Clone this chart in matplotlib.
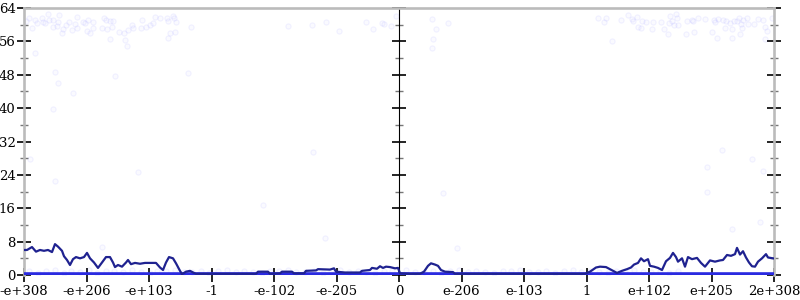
import matplotlib
matplotlib.use("Agg")
import matplotlib.pyplot as plt
from matplotlib.ticker import MultipleLocator, NullFormatter

# x is a position index over the ordered doubles (0 .. 750), 0.0 sits at 375
tick_pos = [0, 62.5, 125, 187.5, 250, 312.5, 375, 437.5, 500, 562.5, 625, 687.5, 750]
tick_labels = ["-e+308", "-e+206", "-e+103", "-1", "-e-102", "-e-205", "0",
               "e-206", "e-103", "1", "e+102", "e+205", "2e+308"]

# running average of error bits
avg_x = [0, 3, 8, 12, 16, 20, 24, 28, 31, 34, 38, 40, 43, 46, 49, 52,
         56, 60, 63, 66, 70, 74, 78, 82, 86, 89, 91, 94, 98, 102, 104, 107,
         111, 116, 121, 126, 132, 136, 139, 142, 145, 149, 152, 156, 158, 162, 166, 170,
         172, 190, 210, 232, 234, 244, 246, 256, 258, 268, 270, 280, 282, 292, 294, 306,
         310, 312, 321, 336, 338, 346, 348, 353, 356, 359, 362, 366, 371, 374, 376, 386,
         396, 400, 404, 407, 411, 414, 417, 421, 429, 431, 460, 500, 530, 561, 566, 572,
         576, 582, 586, 590, 593, 598, 603, 607, 610, 614, 617, 620, 624, 626, 630, 634,
         638, 642, 646, 649, 652, 654, 658, 661, 664, 668, 673, 677, 681, 686, 691, 696,
         699, 703, 707, 711, 713, 716, 719, 722, 725, 728, 731, 734, 738, 742, 744, 749]
avg_y = [6.0, 6.0, 6.7, 5.6, 6.0, 5.8, 6.0, 5.5, 7.4, 6.8, 5.8, 4.5, 3.6, 2.4, 3.8, 4.3,
         4.0, 4.3, 5.3, 4.0, 3.0, 1.7, 3.0, 4.3, 4.3, 3.0, 1.9, 2.4, 2.0, 3.0, 3.6, 2.6,
         2.9, 2.7, 2.9, 2.9, 2.9, 1.8, 1.2, 3.0, 4.3, 4.0, 2.8, 1.0, 0.2, 0.8, 1.0, 0.5,
         0.3, 0.3, 0.3, 0.3, 0.8, 0.8, 0.3, 0.4, 0.8, 0.8, 0.4, 0.4, 1.0, 1.1, 1.4, 1.3,
         1.6, 0.8, 0.6, 0.6, 1.0, 1.2, 1.7, 1.5, 2.1, 1.7, 2.0, 1.9, 1.6, 1.7, 0.4, 0.3,
         0.3, 0.8, 2.2, 2.8, 2.5, 2.2, 1.2, 0.8, 0.7, 0.3, 0.3, 0.3, 0.3, 0.3, 0.8, 1.8,
         2.0, 1.9, 1.4, 0.9, 0.5, 1.0, 1.4, 1.8, 2.5, 2.9, 4.0, 3.3, 3.8, 2.2, 2.0, 1.7,
         1.2, 3.3, 4.1, 5.3, 4.3, 3.2, 4.0, 2.0, 4.3, 3.8, 4.1, 2.9, 2.0, 3.5, 3.2, 3.5,
         3.6, 4.8, 4.6, 5.0, 6.5, 4.9, 5.7, 4.2, 3.0, 2.1, 2.0, 3.2, 4.0, 5.0, 4.2, 4.0]

# baseline (median) error bits
base_x = [0, 125, 250, 375, 500, 625, 750]
base_y = [0.25, 0.25, 0.25, 0.25, 0.25, 0.25, 0.25]

# individual samples (faint dots)
left_x = [2, 5, 8, 11, 13, 18, 19, 21, 24, 25,
          29, 29, 33, 34, 35, 38, 39, 42, 45, 48,
          51, 53, 53, 59, 61, 63, 64, 66, 69, 69,
          78, 80, 82, 83, 86, 86, 88, 89, 95, 100,
          101, 103, 104, 108, 109, 117, 118, 122, 126, 129,
          131, 136, 143, 144, 144, 146, 149, 150, 151, 152, 167]
left_y = [60.9, 61.6, 59.2, 61.2, 60.4, 61.6, 60.7, 60.4, 62.6, 61.2,
          61.2, 59.5, 59.7, 60.7, 62.4, 58.0, 59.0, 60.0, 60.7, 58.8,
          60.2, 61.9, 59.2, 60.7, 60.4, 58.5, 61.2, 58.0, 60.7, 59.2,
          59.2, 61.6, 61.2, 59.0, 60.9, 56.6, 59.5, 60.9, 58.3, 58.0,
          56.4, 54.9, 58.8, 60.0, 59.2, 59.2, 61.2, 59.5, 60.0, 60.4,
          61.9, 61.6, 61.6, 56.8, 60.9, 58.0, 62.1, 61.6, 58.3, 60.7, 59.5]
center_x = [264, 288, 302, 315, 342, 349, 358, 360, 367, 372, 408, 424, 412, 409, 408]
center_y = [59.7, 60.0, 60.7, 58.5, 60.7, 59.0, 60.4, 60.2, 59.7, 62.1, 61.4, 60.4,
            59.0, 56.6, 54.4]
right_x = [574, 580, 582, 588, 597, 604, 608, 609, 613, 614,
           617, 618, 622, 628, 629, 637, 640, 644, 645, 646,
           648, 650, 652, 653, 654, 662, 663, 668, 669, 670,
           674, 681, 688, 690, 691, 693, 694, 699, 701, 702,
           706, 708, 708, 710, 713, 715, 716, 717, 718, 719,
           723, 724, 730, 734, 739, 741, 741, 743, 748]
right_y = [61.6, 60.7, 61.6, 56.1, 61.2, 62.4, 61.4, 60.9, 61.9, 59.5,
           59.2, 60.9, 60.7, 59.0, 60.7, 60.7, 59.0, 57.8, 60.4, 62.1,
           60.9, 60.0, 62.6, 61.6, 60.0, 57.8, 60.9, 61.2, 60.9, 58.3,
           61.6, 61.4, 58.3, 61.2, 60.7, 56.8, 61.4, 61.2, 59.2, 60.9,
           60.4, 59.0, 56.8, 60.9, 60.9, 61.6, 57.8, 60.2, 59.2, 61.2,
           61.6, 60.2, 60.2, 61.4, 61.2, 56.6, 59.5, 58.5, 61.6]
mid_x = [11, 31, 34, 49, 29, 91, 164, 6, 31, 114, 78, 289, 239, 301, 419, 433, 698, 683,
         728, 739, 683, 708, 736]
mid_y = [53.2, 48.7, 46.0, 43.6, 39.8, 47.7, 48.4, 27.8, 22.5, 24.7, 6.7, 29.5, 16.8,
         8.9, 19.7, 6.5, 30.0, 26.0, 27.8, 25.0, 20.0, 11.0, 12.7]
low_x = [5, 14, 22, 31, 40, 47, 56, 65, 73, 82, 90, 99, 108, 117, 126,
         133, 142, 151, 160, 168, 177, 185, 194, 203, 212, 220, 229, 238, 246, 255,
         264, 272, 281, 290, 299, 307, 316, 325, 334, 342, 351, 360, 368, 382, 391,
         400, 409, 417, 426, 435, 444, 452, 461, 470, 479, 487, 496, 505, 514, 522,
         531, 540, 549, 557, 566, 575, 584, 592, 601, 610, 619, 627, 636, 645, 654]
low_y = [1.0, 0.6, 0.9, 1.1, 0.5, 1.0, 0.8, 1.2, 0.6, 0.9, 1.0, 0.7, 1.1, 0.8, 0.6,
         1.0, 0.9, 1.2, 0.7, 0.8, 1.0, 0.6, 0.9, 1.1, 0.7, 1.0, 0.8, 0.6, 1.0, 0.9,
         1.2, 0.7, 0.8, 1.0, 0.6, 0.9, 1.1, 0.7, 1.0, 0.8, 0.6, 1.0, 0.9, 1.2, 0.7,
         0.8, 1.0, 0.6, 0.9, 1.1, 0.7, 1.0, 0.8, 0.6, 1.0, 0.9, 1.2, 0.7, 0.8, 1.0,
         0.6, 0.9, 1.1, 0.7, 1.0, 0.8, 0.6, 1.0, 0.9, 1.2, 0.7, 0.8, 1.0, 0.6, 0.9]

plt.rcParams["font.family"] = ["DejaVu Serif"]
fig = plt.figure(figsize=(8, 3), dpi=100)
ax = fig.add_axes([0.03, 0.0833, 0.9375, 0.89])

dot = dict(s=14, marker="o", facecolors=(0.3, 0.3, 1.0, 0.025),
           edgecolors=(0.3, 0.3, 1.0, 0.07), linewidths=0.8, zorder=2)
for xs, ys in [(left_x, left_y), (center_x, center_y), (right_x, right_y),
               (mid_x, mid_y), (low_x, low_y)]:
    ax.scatter(xs, ys, **dot)

ax.plot(base_x, base_y, color="#2a2ae0", lw=2.6, zorder=3)
ax.plot(avg_x, avg_y, color="#1f2290", lw=1.6, zorder=4)

ax.set_xlim(0, 750)
ax.set_ylim(0, 64)
ax.set_xticks(tick_pos)
ax.set_xticklabels(tick_labels, fontsize=9.5)
ax.yaxis.set_major_locator(MultipleLocator(8))
ax.yaxis.set_minor_locator(MultipleLocator(4))
ax.tick_params(axis="y", which="major", direction="inout", length=10, width=1.2,
               labelsize=9.5, pad=1, right=True)
ax.tick_params(axis="y", which="minor", direction="inout", length=6, width=1,
               color="#777777", right=True)
ax.tick_params(axis="x", direction="inout", length=10, width=1.2, pad=2)

for side in ("left", "right", "top"):
    ax.spines[side].set_color("#bbbbbb")
    ax.spines[side].set_linewidth(1.9)
ax.spines["bottom"].set_visible(False)

# centre axis at 0.0 with ticks but no labels
mid = ax.secondary_yaxis(0.5)
mid.spines["left"].set_color("#bbbbbb")
mid.spines["left"].set_linewidth(1.9)
mid.yaxis.set_major_locator(MultipleLocator(8))
mid.yaxis.set_minor_locator(MultipleLocator(4))
mid.yaxis.set_major_formatter(NullFormatter())
mid.tick_params(which="major", direction="inout", length=10, width=1.2)
mid.tick_params(which="minor", direction="inout", length=6, width=1, color="#777777")

fig.savefig("out.png", dpi=100)
